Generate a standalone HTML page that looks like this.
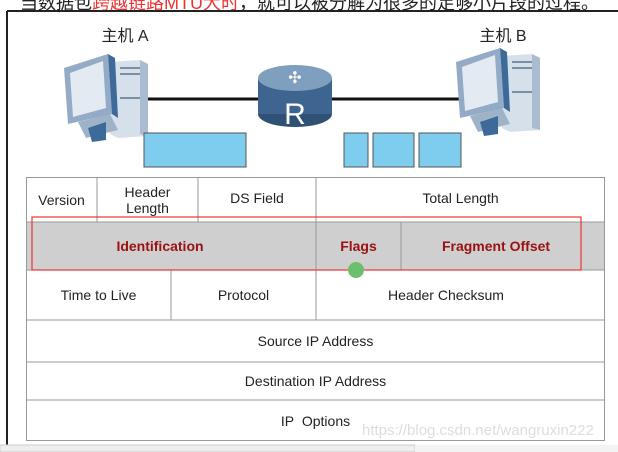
<!DOCTYPE html>
<html><head><meta charset="utf-8"><style>
body{margin:0;width:618px;height:452px;overflow:hidden;background:#fff;position:relative;font-family:"Liberation Sans",Arial,sans-serif}
.t{position:absolute;font-size:14px;color:#222;text-align:center;display:flex;align-items:center;justify-content:center;line-height:16px}
.r{color:#9b1010;font-weight:bold}
</style></head><body>
<div style="position:absolute;left:20px;top:-11px;font-size:18px;color:#222;font-family:'Liberation Sans','Noto Sans CJK SC',sans-serif;white-space:nowrap">当数据包<span style="color:#e33">跨越链路MTU大时</span>，就可以被分解为很多的足够小片段的过程。</div>
<svg width="618" height="452" style="position:absolute;left:0;top:0">
<line x1="7" y1="11" x2="618" y2="11" stroke="#222" stroke-width="2"/>
<line x1="7" y1="11" x2="7" y2="452" stroke="#222" stroke-width="2"/>
<line x1="140" y1="99" x2="460" y2="99" stroke="#111" stroke-width="3"/>
<defs>
<g id="pc">
<path d="M50 14 L80 12 L88 16 L88 88 L58 90 L50 86 Z" fill="#d6e0ea"/>
<path d="M80 12 L88 16 L88 88 L80 86 Z" fill="#a9bcd0"/>
<path d="M60 20 L80 20 M60 26 L80 26 M60 50 L80 50" stroke="#7a8ea6" stroke-width="2"/>
<path d="M18 74 L50 66 L58 82 L26 90 Z" fill="#9fb3c8"/>
<path d="M28 80 L46 74 L46 92 L32 94 Z" fill="#3d6a99"/>
<path d="M4 20 L48 6 L52 66 L8 76 Z" fill="#93abc6"/>
<path d="M48 6 L55 10 L58 70 L52 66 Z" fill="#3d6a99"/>
<path d="M10 25 L43 13 L46 60 L13 69 Z" fill="#e3eaf2"/>
</g>
</defs>
<use href="#pc" x="60" y="48"/>
<use href="#pc" x="452" y="42"/>
<ellipse cx="295" cy="114" rx="37" ry="13" fill="#2f5175"/>
<rect x="258" y="78" width="74" height="36" fill="#3e6590"/>
<ellipse cx="295" cy="78" rx="37" ry="13" fill="#7f9fbf"/>
<text x="295" y="83" font-size="16" fill="#fff" text-anchor="middle" font-family="DejaVu Sans">✣</text>
<text x="295" y="124" font-size="30" fill="#fff" text-anchor="middle" font-family="Liberation Sans">R</text>
<g fill="#7fcdee" stroke="#555" stroke-width="1">
<rect x="144" y="133" width="102" height="34"/>
<rect x="344" y="133" width="24" height="34"/>
<rect x="373" y="133" width="41" height="34"/>
<rect x="419" y="133" width="42" height="34"/>
</g>
<rect x="26" y="222" width="579" height="48" fill="#cfcfcf"/>
<g stroke="#999" stroke-width="1" fill="none">
<rect x="26.5" y="177.5" width="578" height="263"/>
<line x1="26" y1="222" x2="605" y2="222"/><line x1="26" y1="270" x2="605" y2="270"/>
<line x1="26" y1="320" x2="605" y2="320"/><line x1="26" y1="362" x2="605" y2="362"/>
<line x1="26" y1="400" x2="605" y2="400"/>
<line x1="97" y1="177" x2="97" y2="222"/><line x1="198" y1="177" x2="198" y2="222"/>
<line x1="316" y1="177" x2="316" y2="320"/><line x1="401" y1="222" x2="401" y2="270"/>
<line x1="171" y1="270" x2="171" y2="320"/>
</g>
<rect x="32" y="217" width="549" height="53" fill="none" stroke="#e33" stroke-width="1.2"/>
<circle cx="356" cy="270" r="8" fill="#6cbf6c"/>
<rect x="0" y="445" width="415" height="7" fill="#eee" stroke="#ccc"/>
<rect x="415" y="445" width="203" height="7" fill="#f3f3f3"/>
</svg>
<div class="t" style="left:26px;top:177px;width:71px;height:45px">Version</div>
<div class="t" style="left:97px;top:177px;width:101px;height:45px">Header<br>Length</div>
<div class="t" style="left:198px;top:177px;width:118px;height:42px">DS Field</div>
<div class="t" style="left:316px;top:177px;width:289px;height:42px">Total Length</div>
<div class="t r" style="left:26px;top:222px;width:268px;height:48px">Identification</div>
<div class="t r" style="left:316px;top:222px;width:85px;height:48px">Flags</div>
<div class="t r" style="left:401px;top:222px;width:190px;height:48px">Fragment Offset</div>
<div class="t" style="left:26px;top:270px;width:145px;height:50px">Time to Live</div>
<div class="t" style="left:171px;top:270px;width:145px;height:50px">Protocol</div>
<div class="t" style="left:316px;top:270px;width:260px;height:50px">Header Checksum</div>
<div class="t" style="left:26px;top:320px;width:579px;height:42px">Source IP Address</div>
<div class="t" style="left:26px;top:362px;width:579px;height:38px">Destination IP Address</div>
<div class="t" style="left:26px;top:400px;width:579px;height:42px">IP&nbsp; Options</div>
<div style="position:absolute;left:362px;top:422px;font-size:15px;color:#ddd">https://blog.csdn.net/wangruxin222</div>
<div class="t" style="left:90px;top:28px;width:70px;height:18px;font-size:16px;font-family:'Liberation Sans','Noto Sans CJK SC',sans-serif">主机 A</div>
<div class="t" style="left:468px;top:28px;width:70px;height:18px;font-size:16px;font-family:'Liberation Sans','Noto Sans CJK SC',sans-serif">主机 B</div>
</body></html>
